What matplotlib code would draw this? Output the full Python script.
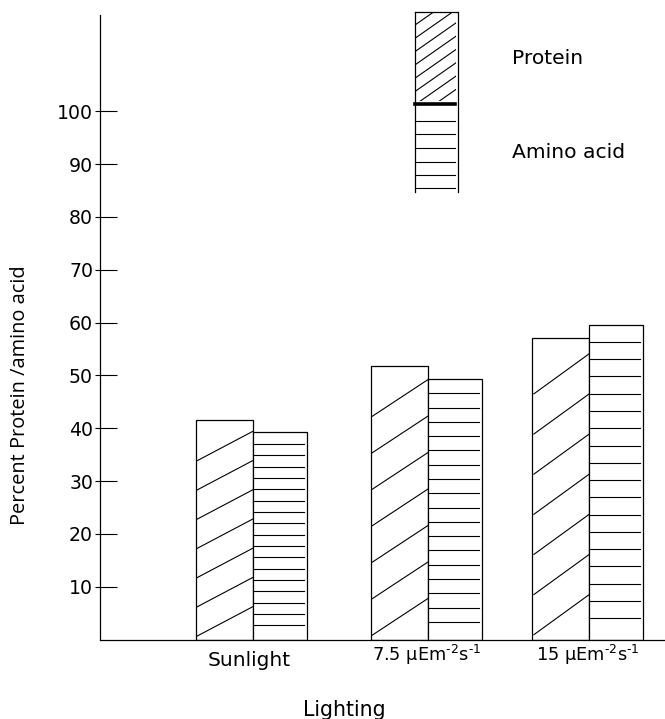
import matplotlib
matplotlib.use("Agg")
import matplotlib.pyplot as plt
from matplotlib.lines import Line2D
from matplotlib.patches import Rectangle
import numpy as np

plt.rcParams["mathtext.fontset"] = "dejavusans"

# ---- data ----
categories = ["Sunlight", "7.5 µEm$^{‐2}$s$^{‐1}$", "15 µEm$^{‐2}$s$^{‐1}$"]
protein = [41.5, 51.8, 57.0]
amino_acid = [39.2, 49.3, 59.6]
yticks = [10, 20, 30, 40, 50, 60, 70, 80, 90, 100]
series_names = ["Protein", "Amino acid"]
x_title = "Lighting"
y_title = "Percent Protein /amino acid"

# ---- layout ----
W, H = 665, 719
fig = plt.figure(figsize=(W / 100, H / 100), dpi=100)
ax_bottom_px, ax_top_px = 639.5, 14.7
ax = fig.add_axes([100 / W, 1 - ax_bottom_px / H, 565 / W, (ax_bottom_px - ax_top_px) / H])
ax_h_px = ax_bottom_px - ax_top_px

ax.set_ylim(0, 118.3)
ax.set_xlim(-0.907, 2.450)
for s in ("top", "right"):
    ax.spines[s].set_visible(False)
for s in ("left", "bottom"):
    ax.spines[s].set_linewidth(0.9)
    ax.spines[s].set_color("black")

x = np.array([0.0, 1.04, 2.0])   # group positions (slightly uneven as drawn)
wp, wa = 0.339, 0.321
lw = 0.9

# bars
ax.bar(x - wp / 2, protein, width=wp, facecolor="white", edgecolor="black", linewidth=lw, zorder=2)
ax.bar(x + wa / 2, amino_acid, width=wa, facecolor="white", edgecolor="black", linewidth=lw, zorder=2)

# hatching: protein diagonal sawtooth lines
inset = 0.01
for xi, v in zip(x, protein):
    P = v / 7.5
    for k in range(7):
        y0 = 0.12 * P + k * P
        ax.add_line(Line2D([xi - wp + inset, xi], [y0, y0 + P], color="black", lw=0.8, zorder=3))
# hatching: amino acid horizontal lines
for xi, v in zip(x, amino_acid):
    s = v / 18.24
    for j in range(1, 18):
        yy = v - j * s
        ax.add_line(Line2D([xi, xi + wa - 0.018], [yy, yy], color="black", lw=0.8, zorder=3))

# y ticks: long inward major ticks plus short outward stubs
ax.set_yticks(yticks)
ax.set_yticklabels([str(t) for t in yticks])
ax.yaxis.set_minor_locator(matplotlib.ticker.FixedLocator(yticks))
ax.yaxis.remove_overlapping_locs = False
ax.tick_params(axis="y", which="major", direction="in", length=12.2, width=0.8,
               pad=5, labelsize=13.6, labelcolor="black")
ax.tick_params(axis="y", which="minor", direction="out", length=3.6, width=0.8)
for lab in ax.get_yticklabels():
    lab.set_fontfamily("DejaVu Sans")

# x labels
ax.set_xticks([])
xt = ax.get_xaxis_transform()
def ax_frac(py):
    return (ax_bottom_px - py) / ax_h_px
label_baselines = [665.7, 661.0, 661.0]
label_sizes = [14.5, 12.8, 12.8]
label_shift = [-0.018, -0.006, -0.006]
for xi, lab, by, fs, dx in zip(x, categories, label_baselines, label_sizes, label_shift):
    ax.text(xi + dx, ax_frac(by), lab, transform=xt, ha="center", va="baseline",
            fontsize=fs, family="DejaVu Sans", clip_on=False)

# axis titles
fig.text(344.5 / W, 1 - 716 / H, x_title, ha="center", va="baseline",
         fontsize=14.8, family="DejaVu Sans")
fig.text(20 / W, 1 - 395 / H, y_title, ha="center", va="center", rotation=90,
         fontsize=14.4, family="Open Sans")

# ---- legend (drawn in pixel layout) ----
def fx(px):
    return px / W
def fy(py):
    return 1 - py / H

L, R = 415, 458.3
top, mid, bot = 11.7, 104.3, 192
fig.add_artist(Line2D([fx(L), fx(L)], [fy(top), fy(bot)], color="black", lw=0.9))
fig.add_artist(Line2D([fx(R), fx(R)], [fy(top), fy(bot)], color="black", lw=0.9))
fig.add_artist(Line2D([fx(L), fx(456.7)], [fy(top), fy(top)], color="black", lw=0.9))
fig.add_artist(Line2D([fx(L), fx(455)], [fy(mid), fy(mid)], color="black", lw=2.6))
for yy in [120.7, 134.3, 147.7, 161.5, 175.0, 188.3]:
    fig.add_artist(Line2D([fx(L), fx(455)], [fy(yy), fy(yy)], color="black", lw=0.8))
clip = Rectangle((fx(416.5), fy(101)), fx(456) - fx(416.5), fy(13) - fy(101),
                 transform=fig.transFigure, facecolor="none", edgecolor="none")
fig.add_artist(clip)
for yl in np.arange(25.0, 120.0, 13.3):
    ln = Line2D([fx(L), fx(R)], [fy(yl), fy(yl - 0.7 * (R - L))], color="black", lw=0.8)
    ln.set_clip_path(clip)
    fig.add_artist(ln)

fig.text(fx(512), fy(58), series_names[0], ha="left", va="center", fontsize=14.6, family="DejaVu Sans")
fig.text(fx(512), fy(152), series_names[1], ha="left", va="center", fontsize=14.6, family="DejaVu Sans")

fig.savefig("out.png", dpi=100)
